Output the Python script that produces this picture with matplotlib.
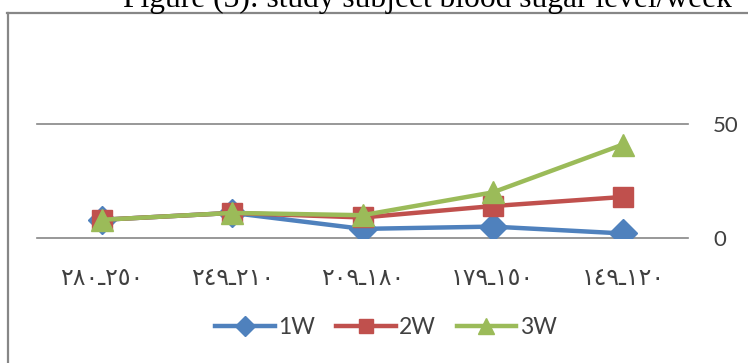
import matplotlib
matplotlib.use("Agg")
import matplotlib.pyplot as plt
from matplotlib.lines import Line2D

# Blood sugar ranges (Arabic-Indic digits) and counts per week
categories = ["٢٨٠ـ٢٥٠", "٢٤٩ـ٢١٠", "٢٠٩ـ١٨٠", "١٧٩ـ١٥٠", "١٤٩ـ١٢٠"]
week1 = [8, 11, 4, 5, 2]
week2 = [8, 11, 9, 14, 18]
week3 = [8, 11, 10, 20, 41]
series_names = ["1W", "2W", "3W"]
y_ticks = [0, 50]

W, H = 748, 363
fig = plt.figure(figsize=(W / 100, H / 100), dpi=100)

def fx(px):
    return px / W

def fy(py):
    return 1 - py / H

# Chart frame (top and left edges)
fig.add_artist(Line2D([fx(7), fx(W)], [fy(13), fy(13)], color="#878787", lw=1.6))
fig.add_artist(Line2D([fx(8), fx(8)], [fy(13), fy(H)], color="#878787", lw=1.6))

# Title
fig.text(fx(123), fy(7), "Figure (3): study subject blood sugar level/week",
         family="Liberation Serif", fontsize=22.7, ha="left", va="baseline", color="black")

ax = fig.add_axes([fx(37), fy(238), fx(688) - fx(37), (238 - 124) / H])
x = list(range(len(categories)))

ax.plot(x, week1, color="#4F81BD", lw=3.2, marker="D", ms=14, label=series_names[0], zorder=3)
ax.plot(x, week2, color="#C0504D", lw=3.2, marker="s", ms=14, label=series_names[1], zorder=4)
ax.plot(x, week3, color="#9BBB59", lw=3.2, marker="^", ms=16, label=series_names[2], zorder=5)

ax.set_xlim(-0.5, len(categories) - 0.5)
ax.set_ylim(0, 50)
ax.set_xticks(x)
ax.set_xticklabels(categories, family=["DejaVu Sans"], fontsize=17, color="#404040")
ax.tick_params(axis="x", length=0, pad=20)
ax.yaxis.tick_right()
ax.set_yticks(y_ticks)
ax.set_yticklabels([str(v) for v in y_ticks], family="Lato", fontsize=16, color="#404040")
ax.tick_params(axis="y", length=0, pad=18)
for s in ax.spines.values():
    s.set_visible(False)
ax.yaxis.grid(True, color="#868686", lw=1.2)
ax.set_axisbelow(True)
for line in ax.get_ygridlines():
    line.set_clip_on(False)

fig.legend(loc="center", bbox_to_anchor=(fx(386), fy(328)), ncol=3, frameon=False,
           prop={"family": "Lato", "size": 16.5}, handlelength=2.6, handletextpad=0.15,
           columnspacing=0.9, labelcolor="#404040", markerscale=0.7)

fig.savefig("out.png", dpi=100)
